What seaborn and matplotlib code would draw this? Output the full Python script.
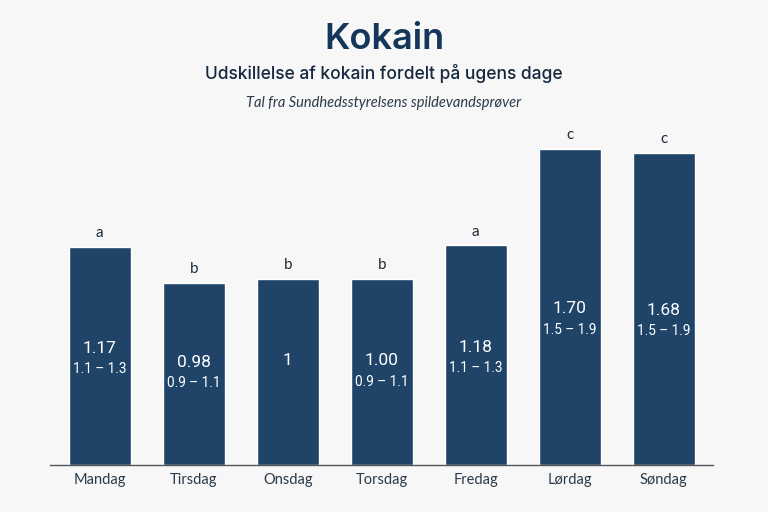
import numpy as np
import pandas as pd
import matplotlib
matplotlib.use("Agg")
import matplotlib.pyplot as plt
import seaborn as sns

# data
days = ["Mandag", "Tirsdag", "Onsdag", "Torsdag", "Fredag", "Lørdag", "Søndag"]
values = [1.17, 0.98, 1.0, 1.00, 1.18, 1.70, 1.68]
value_labels = ["1.17", "0.98", "1", "1.00", "1.18", "1.70", "1.68"]
intervals = ["1.1 – 1.3", "0.9 – 1.1", "", "0.9 – 1.1", "1.1 – 1.3", "1.5 – 1.9", "1.5 – 1.9"]
groups = ["a", "b", "b", "b", "a", "c", "c"]

bar_color = "#1f4468"
navy = "#14365a"
bg = "#f7f7f7"

sns.set_theme(style="white")
plt.rcParams["font.family"] = ["Lato", "DejaVu Sans"]

df = pd.DataFrame({"dag": days, "vaerdi": values})

fig = plt.figure(figsize=(7.68, 5.12), dpi=100, facecolor=bg)
ax = fig.add_axes([0.065, 0.092, 0.863, 0.69])
ax.set_facecolor(bg)

sns.barplot(data=df, x="dag", y="vaerdi", color=bar_color, width=0.66,
            saturation=1, ax=ax)

for i, p in enumerate(ax.patches):
    xc = p.get_x() + p.get_width() / 2
    h = p.get_height()
    # group letter above bar
    ax.annotate(groups[i], (xc, h), xytext=(0, 5), textcoords="offset points",
                ha="center", va="bottom", fontsize=11, color="#1c2a3a")
    # value and interval inside bar
    ym = 0.4 * h + 0.16
    ax.text(xc, ym, value_labels[i], ha="center", va="center",
            fontsize=12.5, color="white", family=["Roboto", "DejaVu Sans"])
    if intervals[i]:
        ax.annotate(intervals[i], (xc, ym), xytext=(0, -15), textcoords="offset points",
                    ha="center", va="center", fontsize=9.8, color="white",
                    family=["Roboto", "DejaVu Sans"])

ax.set_xlim(-0.53, 6.52)
ax.set_ylim(0, 1.9)
ax.set_xlabel("")
ax.set_ylabel("")
ax.set_yticks([])
for s in ["top", "right", "left"]:
    ax.spines[s].set_visible(False)
ax.spines["bottom"].set_color("#555555")
ax.spines["bottom"].set_linewidth(1)
ax.tick_params(axis="x", length=0, pad=6, labelsize=10.5, labelcolor="#2b3a4a")

fig.text(0.5, 0.922, "Kokain", ha="center", va="center", fontsize=26,
         fontweight="semibold", color=navy, family=["Inter", "DejaVu Sans"])
fig.text(0.5, 0.857, "Udskillelse af kokain fordelt på ugens dage", ha="center",
         va="center", fontsize=12.5, fontweight="medium", color="#16283f",
         family=["Inter", "DejaVu Sans"])
fig.text(0.5, 0.799, "Tal fra Sundhedsstyrelsens spildevandsprøver", ha="center",
         va="center", fontsize=10.5, style="italic", color="#2b3a4a")

fig.savefig("out.png", dpi=100, facecolor=bg)
